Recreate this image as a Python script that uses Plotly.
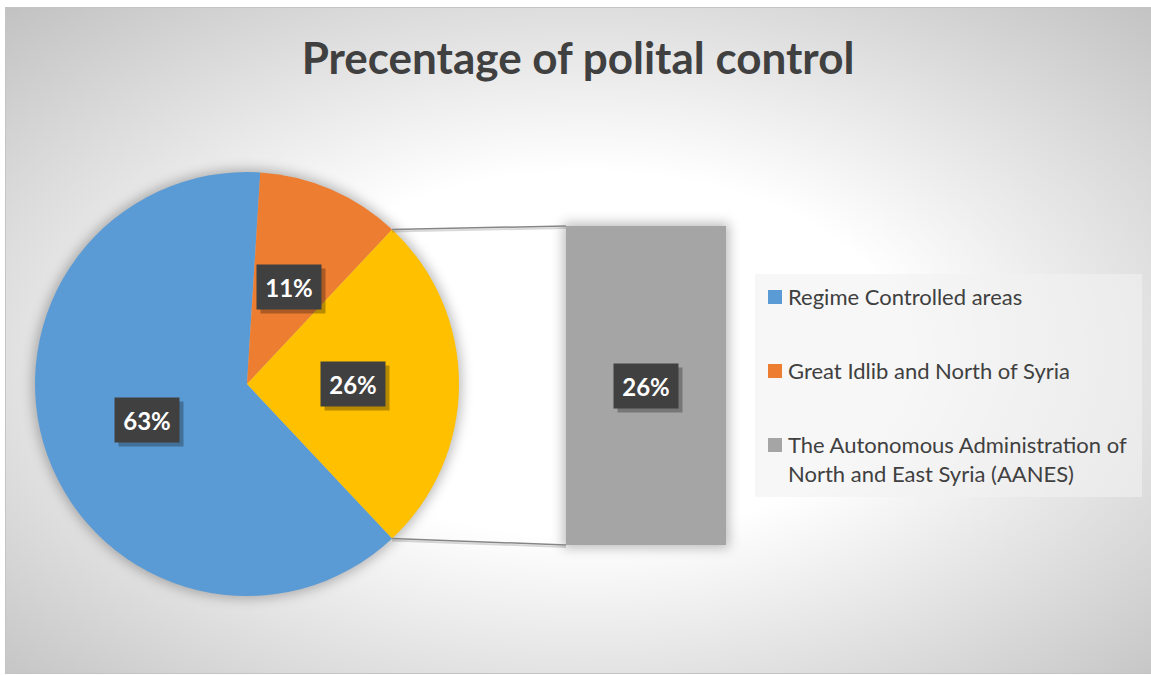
import math
import base64
import plotly.graph_objects as go

# ---- data ----
categories = [
    "Regime Controlled areas",
    "Great Idlib and North of Syria",
    "The Autonomous Administration of North and East Syria (AANES)",
]
legend_lines = [
    ["Regime Controlled areas"],
    ["Great Idlib and North of Syria"],
    ["The Autonomous Administration of", "North and East Syria (AANES)"],
]
shares = [63, 11, 26]          # percent of territory
pie_colors = ["#5B9BD5", "#ED7D31", "#FFC000"]
bar_color = "#A5A5A5"
legend_colors = ["#5B9BD5", "#ED7D31", "#A5A5A5"]
title_text = "Precentage of polital control"

# ---- layout geometry (pixels) ----
W, H = 1151, 675
PIE_CX, PIE_CY, PIE_R = 247, 384, 212
BAR_X0, BAR_X1, BAR_TOP, BAR_BASE = 566, 726, 226, 545
LEG_X0, LEG_X1, LEG_Y0, LEG_Y1 = 755, 1142, 274, 497
LEG_ROWS = [297, 371, 445]
LINE_STEP = 29
FONT = "Lato"


def px(x):
    return x / W


def py(y):
    return 1 - y / H


# ---- background: radial gradient chart area with soft shadows ----
svg = f"""<svg xmlns="http://www.w3.org/2000/svg" width="{W}" height="{H}" viewBox="0 0 {W} {H}" preserveAspectRatio="none">
<defs>
<radialGradient id="bg" cx="0.5" cy="0.52" r="0.72">
<stop offset="0" stop-color="#ffffff"/>
<stop offset="0.38" stop-color="#ffffff"/>
<stop offset="1" stop-color="#c2c2c2"/>
</radialGradient>
<filter id="soft" x="-30%" y="-30%" width="160%" height="160%"><feGaussianBlur stdDeviation="6"/></filter>
</defs>
<rect width="{W}" height="{H}" fill="#ffffff"/>
<rect x="5.5" y="7.5" width="{W + 10}" height="{H - 9}" fill="url(#bg)" stroke="#c4c4c4" stroke-width="1"/>
<circle cx="{PIE_CX}" cy="{PIE_CY}" r="{PIE_R + 3}" fill="#000000" fill-opacity="0.26" filter="url(#soft)"/>
<rect x="{BAR_X0 - 3}" y="{BAR_TOP - 3}" width="{BAR_X1 - BAR_X0 + 6}" height="{BAR_BASE - BAR_TOP + 6}" fill="#000000" fill-opacity="0.26" filter="url(#soft)"/>
</svg>"""
bg_src = "data:image/svg+xml;base64," + base64.b64encode(svg.encode()).decode()

fig = go.Figure()

# pie: the split-out slice is centred on 3 o'clock
other_span = shares[2] / sum(shares) * 360
rotation = 90 + other_span / 2
fig.add_trace(go.Pie(
    labels=categories,
    values=shares,
    sort=False,
    direction="clockwise",
    rotation=rotation,
    marker=dict(colors=pie_colors, line=dict(width=0)),
    textinfo="none",
    hoverinfo="label+percent",
    showlegend=False,
    domain=dict(x=[px(PIE_CX - PIE_R), px(PIE_CX + PIE_R)],
                y=[py(PIE_CY + PIE_R), py(PIE_CY - PIE_R)]),
))

# secondary bar for the split-out slice
fig.add_trace(go.Bar(
    x=[0], y=[shares[2]], width=[1],
    marker=dict(color=bar_color, line=dict(width=0)),
    name=categories[2], showlegend=False,
    hoverinfo="y",
))

fig.update_layout(
    width=W, height=H,
    margin=dict(l=0, r=0, t=0, b=0),
    paper_bgcolor="#ffffff",
    plot_bgcolor="rgba(0,0,0,0)",
    xaxis=dict(domain=[px(BAR_X0), px(BAR_X1)], range=[-0.5, 0.5],
               visible=False, fixedrange=True),
    yaxis=dict(domain=[py(BAR_BASE), py(BAR_TOP)], range=[0, shares[2]],
               visible=False, fixedrange=True),
    title=dict(text=title_text, x=px((5 + W) / 2), xanchor="center",
               y=py(59), yanchor="middle",
               font=dict(family=FONT, size=44, color="#404040", weight="bold")),
    images=[dict(source=bg_src, xref="paper", yref="paper", x=0, y=1,
                 sizex=1, sizey=1, xanchor="left", yanchor="top",
                 sizing="stretch", layer="below")],
)

shapes = []
annotations = []

# connector lines from the split-out slice edges to the bar corners
start_ang = math.radians(rotation - other_span)
end_ang = math.radians(rotation)
for ang, by in ((start_ang, BAR_TOP), (end_ang, BAR_BASE)):
    ex = PIE_CX + PIE_R * math.sin(ang)
    ey = PIE_CY - PIE_R * math.cos(ang)
    shapes.append(dict(type="line", xref="paper", yref="paper",
                       x0=px(ex), y0=py(ey + 2), x1=px(BAR_X0), y1=py(by + 2),
                       line=dict(color="rgba(0,0,0,0.15)", width=2)))
    shapes.append(dict(type="line", xref="paper", yref="paper",
                       x0=px(ex), y0=py(ey), x1=px(BAR_X0), y1=py(by),
                       line=dict(color="#858585", width=1.5)))


def value_label(text, xref, yref, x, y):
    common = dict(xref=xref, yref=yref, x=x, y=y, xanchor="center",
                  yanchor="middle", showarrow=False, width=62, height=42)
    annotations.append(dict(text=" ", bgcolor="rgba(0,0,0,0.28)",
                            xshift=4, yshift=-4, **common))
    annotations.append(dict(text=text, bgcolor="#404040",
                            font=dict(family=FONT, size=24, color="#ffffff",
                                      weight="bold"), **common))


# pie data labels at half radius on each slice's mid angle
acc = 0.0
total = sum(shares)
for v in shares:
    mid = math.radians(rotation + (acc + v / 2) / total * 360)
    acc += v
    lx = PIE_CX + 0.5 * PIE_R * math.sin(mid)
    ly = PIE_CY - 0.5 * PIE_R * math.cos(mid)
    value_label(f"{v}%", "paper", "paper", px(lx), py(ly))

# bar data label
value_label(f"{shares[2]}%", "x", "y", 0, shares[2] / 2)

# legend panel
shapes.append(dict(type="rect", xref="paper", yref="paper", layer="below",
                   x0=px(LEG_X0), x1=px(LEG_X1), y0=py(LEG_Y1), y1=py(LEG_Y0),
                   fillcolor="rgba(242,242,242,0.6)", line=dict(width=0)))
for color, lines, yc in zip(legend_colors, legend_lines, LEG_ROWS):
    shapes.append(dict(type="rect", xref="paper", yref="paper",
                       x0=px(768), x1=px(782), y0=py(yc + 7), y1=py(yc - 7),
                       fillcolor=color, line=dict(width=0)))
    for k, line in enumerate(lines):
        annotations.append(dict(text=line, xref="paper", yref="paper",
                                x=px(786), y=py(yc - 1 + k * LINE_STEP),
                                xanchor="left", yanchor="middle",
                                showarrow=False,
                                font=dict(family=FONT, size=22, color="#404040")))

fig.update_layout(shapes=shapes, annotations=annotations)
fig.write_html("out.html")
